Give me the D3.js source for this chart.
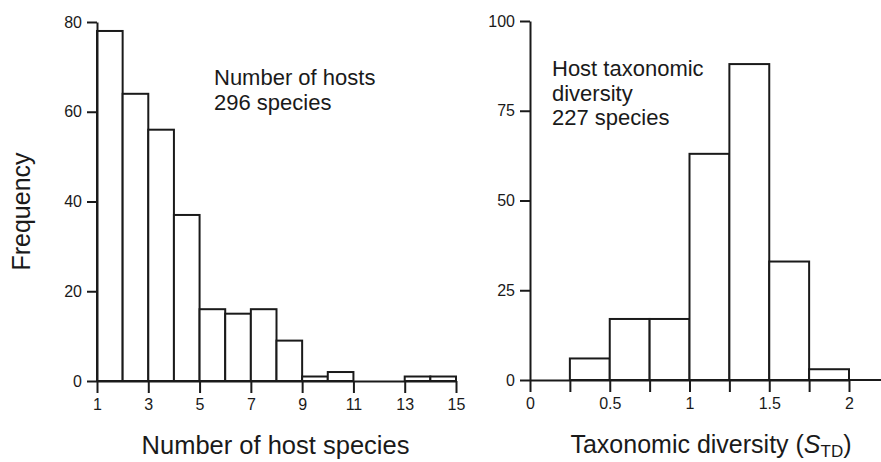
<!DOCTYPE html>
<html>
<head>
<meta charset="utf-8">
<script src="https://cdn.jsdelivr.net/npm/d3@7"></script>
<style>
  html, body { margin: 0; padding: 0; background: #fff; }
  svg { display: block; }
  text { font-family: "Liberation Sans", Arial, Helvetica, sans-serif; fill: #1a1a1a; }
</style>
</head>
<body>
<svg id="chart" width="881" height="462"></svg>
<script>
// ---- Data ----
const hostBinStarts = [1, 2, 3, 4, 5, 6, 7, 8, 9, 10, 11, 12, 13, 14];
const hostCounts    = [78, 64, 56, 37, 16, 15, 16, 9, 1, 2, 0, 0, 1, 1];
const hostBinWidth  = 1;
const hostXTicks    = [1, 3, 5, 7, 9, 11, 13, 15];
const hostYTicks    = [0, 20, 40, 60, 80];

const stdBinStarts  = [0.25, 0.5, 0.75, 1.0, 1.25, 1.5, 1.75];
const stdCounts     = [6, 17, 17, 63, 88, 33, 3];
const stdBinWidth   = 0.25;
const stdXTicks     = [0, 0.25, 0.5, 0.75, 1, 1.25, 1.5, 1.75, 2];
const stdXLabels    = [0, 0.5, 1, 1.5, 2];
const stdYTicks     = [0, 25, 50, 75, 100];

const leftTitle  = "Number of host species";
const yTitle     = "Frequency";
const leftNote   = ["Number of hosts", "296 species"];
const rightNote  = ["Host taxonomic", "diversity", "227 species"];

// ---- Layout ----
const svg = d3.select("#chart");
const W = 881, H = 462;
const ink = "#1a1a1a";
const lw = 2;

const xL = d3.scaleLinear().domain([1, 15]).range([97, 456]);
const yL = d3.scaleLinear().domain([0, 80]).range([381, 22]);
const xR = d3.scaleLinear().domain([0, 2]).range([530, 849]);
const yR = d3.scaleLinear().domain([0, 100]).range([380, 21]);

function styleAxis(g) {
  g.selectAll("path.domain").attr("stroke", ink).attr("stroke-width", lw);
  g.selectAll(".tick line").attr("stroke", ink).attr("stroke-width", lw);
  g.selectAll(".tick text").attr("font-size", 16).attr("fill", ink)
    .style("font-family", '"Liberation Sans", Arial, sans-serif');
}

function bars(data, starts, width, x, y) {
  const items = starts.map((s, i) => ({ x0: s, x1: s + width, v: data[i] })).filter(d => d.v > 0);
  svg.append("g").selectAll("rect").data(items).join("rect")
    .attr("x", d => x(d.x0))
    .attr("y", d => y(d.v))
    .attr("width", d => x(d.x1) - x(d.x0))
    .attr("height", d => y(0) - y(d.v))
    .attr("fill", "#fff")
    .attr("stroke", ink)
    .attr("stroke-width", lw);
}

// ---- Left panel ----
bars(hostCounts, hostBinStarts, hostBinWidth, xL, yL);

svg.append("g").attr("transform", `translate(0,${yL(0)})`)
  .call(d3.axisBottom(xL).tickValues(hostXTicks).tickSize(12).tickSizeOuter(0).tickPadding(6).tickFormat(d3.format("d")))
  .call(styleAxis);

svg.append("g").attr("transform", `translate(${xL(1)},0)`)
  .call(d3.axisLeft(yL).tickValues(hostYTicks).tickSize(10).tickSizeOuter(0).tickPadding(5))
  .call(styleAxis);

svg.append("text")
  .attr("x", (xL.range()[0] + xL.range()[1]) / 2 - 1)
  .attr("y", 454)
  .attr("text-anchor", "middle")
  .attr("font-size", 25.5)
  .text(leftTitle);

svg.append("text")
  .attr("transform", `translate(30,${(yL.range()[0] + yL.range()[1]) / 2 + 10}) rotate(-90)`)
  .attr("text-anchor", "middle")
  .attr("font-size", 25)
  .text(yTitle);

const ln = svg.append("text").attr("font-size", 22);
leftNote.forEach((t, i) => {
  ln.append("tspan").attr("x", 214).attr("y", 85 + i * 24.5).text(t);
});

// ---- Right panel ----
bars(stdCounts, stdBinStarts, stdBinWidth, xR, yR);

const gxR = svg.append("g").attr("transform", `translate(0,${yR(0)})`)
  .call(d3.axisBottom(xR).tickValues(stdXTicks).tickSize(12).tickSizeOuter(0).tickPadding(6)
    .tickFormat(d => stdXLabels.includes(d) ? d3.format("")(d) : ""))
  .call(styleAxis);
// axis baseline continues to the right edge
gxR.append("line")
  .attr("x1", xR(2)).attr("x2", W)
  .attr("y1", 0).attr("y2", 0)
  .attr("stroke", ink).attr("stroke-width", lw);

svg.append("g").attr("transform", `translate(${xR(0)},0)`)
  .call(d3.axisLeft(yR).tickValues(stdYTicks).tickSize(10).tickSizeOuter(0).tickPadding(5))
  .call(styleAxis);

const rt = svg.append("text")
  .attr("x", 711)
  .attr("y", 453)
  .attr("text-anchor", "middle")
  .attr("font-size", 25);
rt.append("tspan").text("Taxonomic diversity (");
rt.append("tspan").attr("font-style", "italic").text("S");
rt.append("tspan").attr("font-size", 17).attr("dy", 4).text("TD");
rt.append("tspan").attr("dy", -4).text(")");

const rn = svg.append("text").attr("font-size", 22);
rightNote.forEach((t, i) => {
  rn.append("tspan").attr("x", 552).attr("y", 76 + i * 24.5).text(t);
});
</script>
</body>
</html>
